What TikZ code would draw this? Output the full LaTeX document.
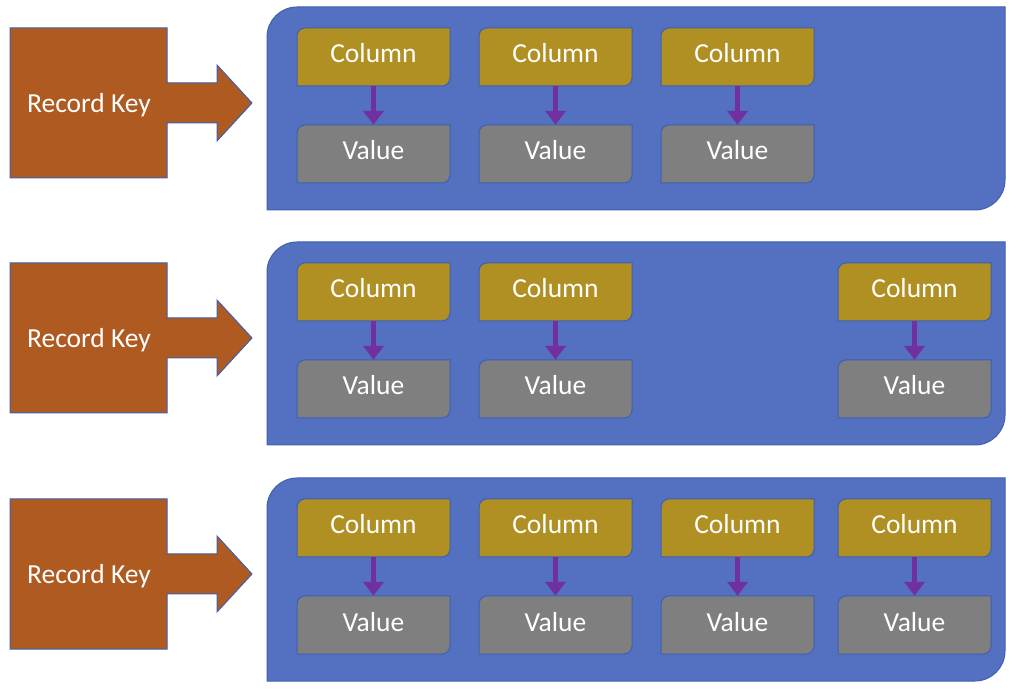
\documentclass[tikz,border=0pt]{standalone}
\usepackage{fontspec}
\setmainfont{Carlito}
\usetikzlibrary{arrows.meta}
\definecolor{keyfill}{HTML}{AE5A21}
\definecolor{rimblue}{HTML}{3F5FAF}
\definecolor{panelfill}{HTML}{5470C1}
\definecolor{colfill}{HTML}{B08F23}
\definecolor{valfill}{HTML}{7F7F7F}
\definecolor{linkpurple}{HTML}{7030A0}
% box with rounded top-left and bottom-right corners
\newcommand\cornerbox[6]{%
  \path[#1] (#2,#3) -- (#2,#5-#6) arc[start angle=180,end angle=90,radius=#6pt]
    -- (#4,#5) -- (#4,#3+#6) arc[start angle=0,end angle=-90,radius=#6pt] -- cycle;}
\begin{document}
\begin{tikzpicture}[x=1pt,y=1pt,
    every node/.style={font=\fontsize{27.5}{32}\selectfont,text=white},
    rim/.style={draw=rimblue,line width=1pt},
    label/.style={minimum width=153pt,minimum height=58pt,inner sep=0pt,text height=20pt,text depth=0pt},
    link/.style={draw=linkpurple,line width=5pt,-{Triangle[length=14pt,width=20pt]}}]
  \useasboundingbox (0,0) rectangle (1024,690);
  \foreach \d/\r/\xs in {0/1/{297,479,661},235/2/{297,479,838},471/3/{297,479,661,838}}
  {
    \cornerbox{rim,fill=panelfill}{267}{480-\d}{1005}{683-\d}{30}
    \path[rim,fill=keyfill] (10,512-\d) -- (10,662-\d) -- (167,662-\d) -- (167,607-\d)
      -- (217,607-\d) -- (217,625-\d) -- (252,587-\d) -- (217,549-\d) -- (217,567-\d)
      -- (167,567-\d) -- (167,512-\d) -- cycle;
    \node (key\r) at (89,585-\d) {Record Key};
    \foreach \x in \xs
    {
      \cornerbox{rim,fill=colfill}{\x}{604-\d}{\x+153}{662-\d}{8}
      \cornerbox{rim,fill=valfill}{\x}{507-\d}{\x+153}{565-\d}{8}
      \node[label] (col\r-\x) at (\x+76.5,637-\d) {Column};
      \node[label] (val\r-\x) at (\x+76.5,540-\d) {Value};
      \draw[link] ([yshift=-4pt]col\r-\x.south) -- ([yshift=-4pt]val\r-\x.north);
    }
  }
\end{tikzpicture}
\end{document}
